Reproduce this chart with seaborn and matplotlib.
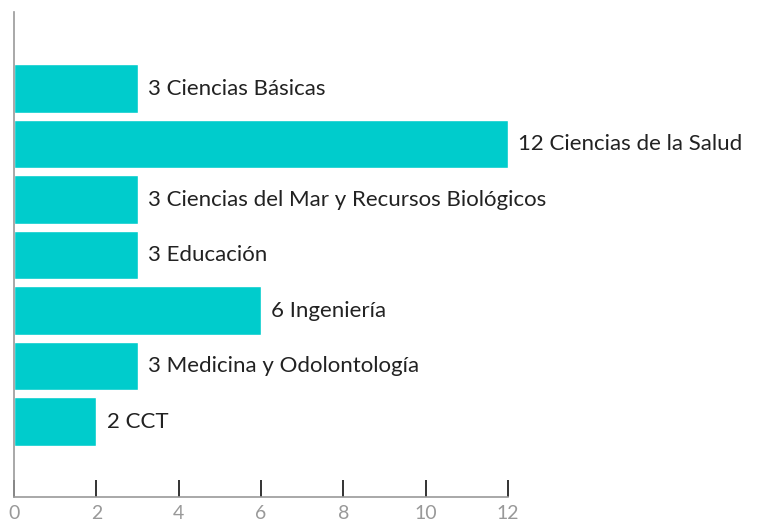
import numpy as np
import pandas as pd
import matplotlib
matplotlib.use('Agg')
import matplotlib.pyplot as plt
import seaborn as sb

# Data
areas = ["Ciencias Básicas", "Ciencias de la Salud", "Ciencias del Mar y Recursos Biológicos",
         "Educación", "Ingeniería", "Medicina y Odolontología", "CCT"]
counts = [3, 12, 3, 3, 6, 3, 2]
x_ticks = [0, 2, 4, 6, 8, 10, 12]

df = pd.DataFrame({"area": areas, "n": counts})

sb.set_style("white")
plt.rcParams['font.family'] = ['Lato', 'DejaVu Sans']

fig = plt.figure(figsize=(7.61, 5.24), dpi=100)
ax = fig.add_axes([14/761, 27/524, 747/761, 485/524])

sb.barplot(data=df, y="area", x="n", orient="h", color="#00CCCC", width=0.88,
           saturation=1, ax=ax)

# value + category label to the right of each bar
for i, (a, n) in enumerate(zip(areas, counts)):
    ax.annotate(f"{n} {a}", xy=(n, i), xytext=(7.5, 0), textcoords="offset points",
                va="center", ha="left", fontsize=16, color="#222222")

ax.set_xlim(0, 747/494*12)
ax.set_ylim(7.36, -1.38)
ax.set_xticks(x_ticks)
ax.set_xticklabels([str(t) for t in x_ticks], color="#999999", fontsize=14)
ax.tick_params(axis="x", bottom=True, direction="in", length=12, width=1.2,
               colors="#111111", labelcolor="#999999", pad=6)
# first two ticks are grey in the original
for t in ax.xaxis.get_major_ticks()[:2]:
    t.tick1line.set_color("#999999")
ax.set_yticks([])
ax.set_xlabel("")
ax.set_ylabel("")
for s in ["top", "right"]:
    ax.spines[s].set_visible(False)
for s in ["left", "bottom"]:
    ax.spines[s].set_color("#999999")
    ax.spines[s].set_linewidth(1.2)
ax.spines["bottom"].set_bounds(0, 12)
ax.patch.set_alpha(0)

plt.savefig("out.png", dpi=100)
